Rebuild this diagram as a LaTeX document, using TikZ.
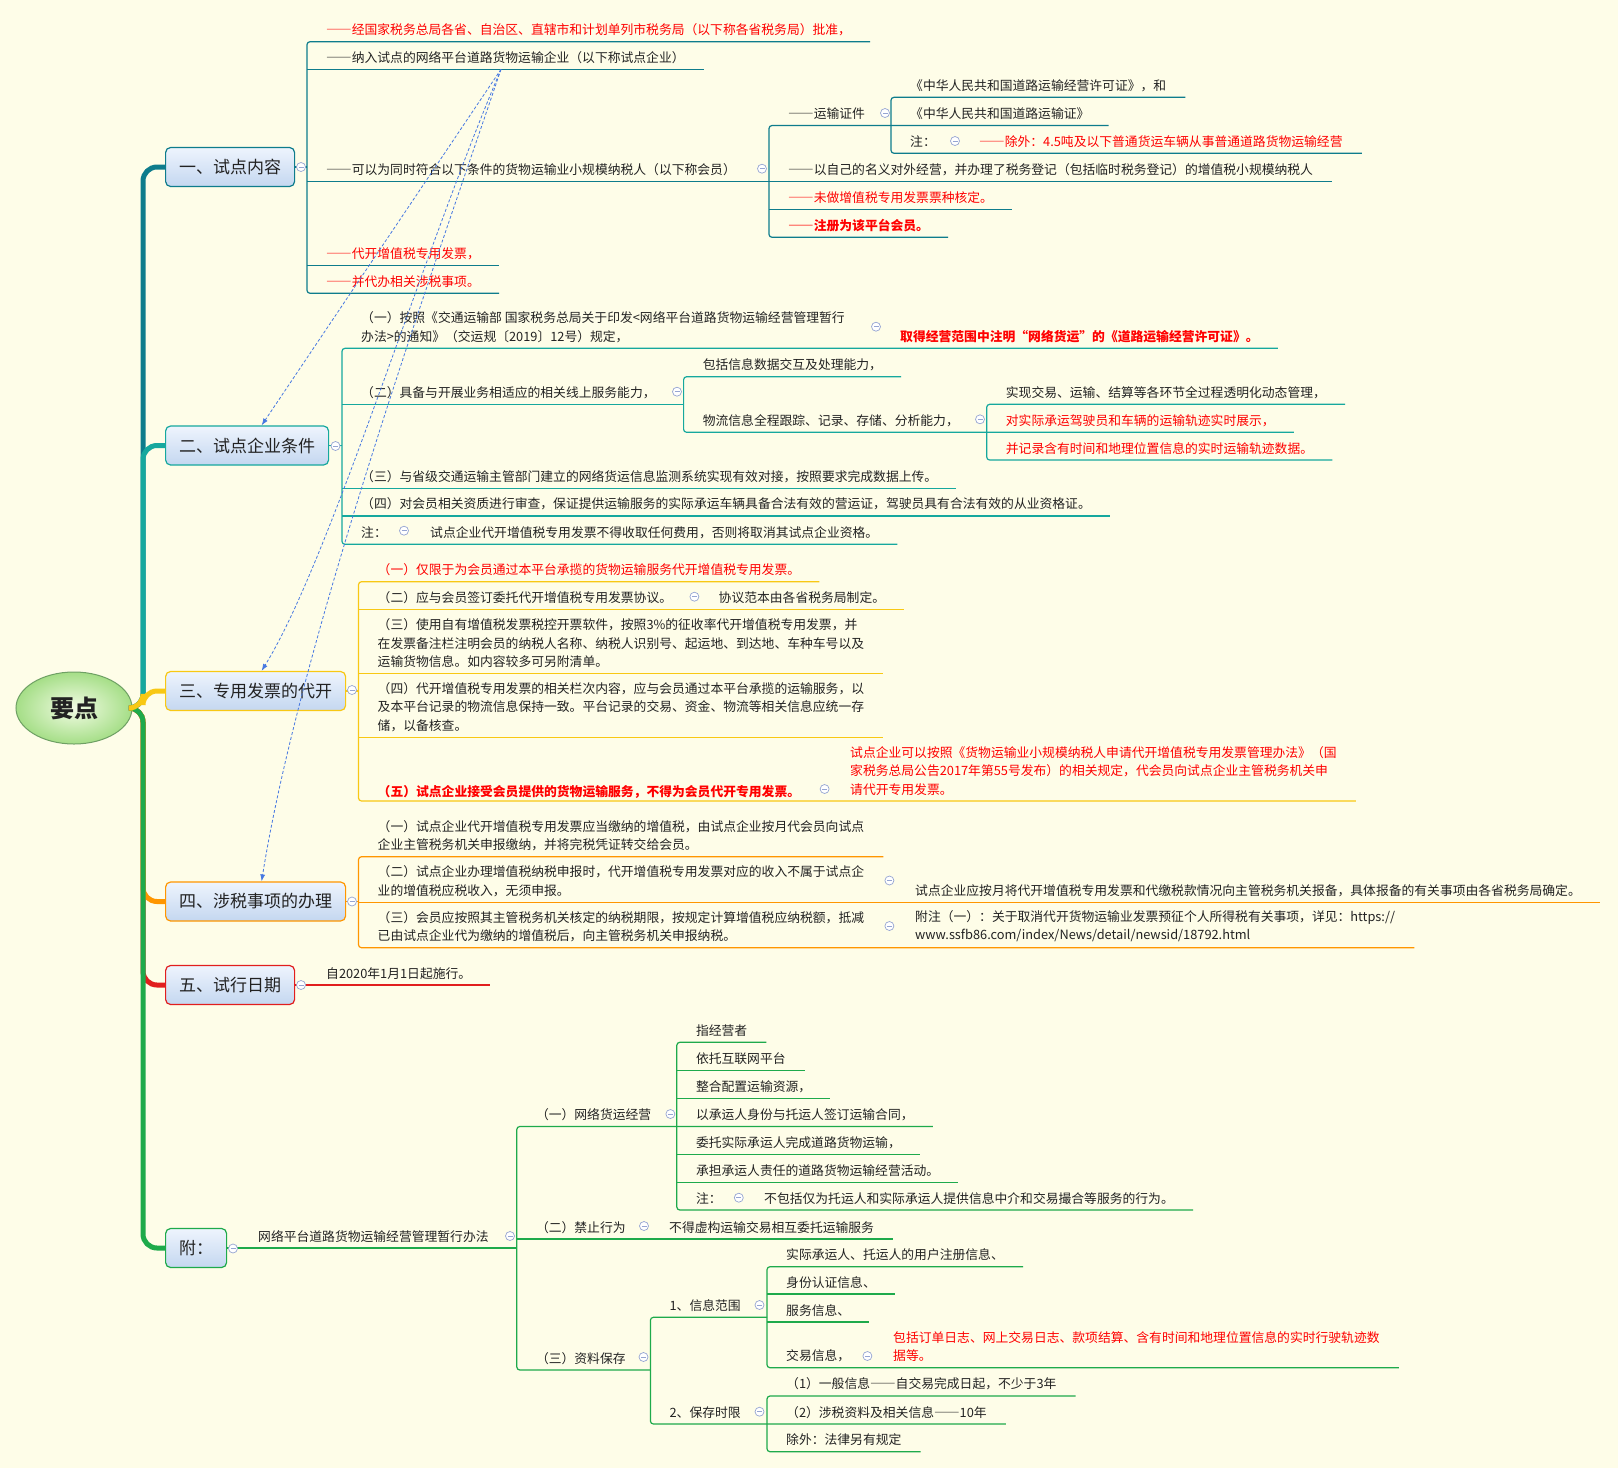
\documentclass[tikz,border=0pt]{standalone}
\usepackage{fontspec}
\setmainfont{Noto Sans CJK SC}
\newcommand\fwdash{{\addfontfeature{CharacterWidth=Full}——}}
\usepackage{tikz}
\usetikzlibrary{arrows.meta,shapes.geometric}
\usepackage{xcolor}
\definecolor{bgc}{RGB}{254,253,232}
\definecolor{brA}{RGB}{14,124,140}
\definecolor{brB}{RGB}{22,168,158}
\definecolor{brC}{RGB}{248,200,20}
\definecolor{brD}{RGB}{255,150,0}
\definecolor{brE}{RGB}{225,30,30}
\definecolor{brF}{RGB}{30,170,75}
\definecolor{txtc}{RGB}{34,34,34}
\definecolor{redt}{RGB}{255,0,0}
\definecolor{relc}{RGB}{70,120,225}
\definecolor{foldc}{RGB}{150,165,210}
\definecolor{tpTop}{RGB}{238,244,253}
\definecolor{tpBot}{RGB}{196,215,240}
\definecolor{rootIn}{RGB}{242,252,228}
\definecolor{rootOut}{RGB}{165,222,135}
\definecolor{rootBd}{RGB}{110,160,100}

\begin{document}
\begin{tikzpicture}[
  x=1pt, y=-1pt,
  root/.style={ellipse, draw=rootBd, line width=1, inner color=rootIn, outer color=rootOut,
               minimum width=116, minimum height=72, font=\fontsize{24}{28}\selectfont\bfseries, text=txtc},
  topic/.style={draw=#1, line width=1.2, rounded corners=5, top color=tpTop, bottom color=tpBot,
                anchor=west, minimum height=39, inner sep=0, font=\fontsize{17}{20}\selectfont, text=txtc},
  item/.style={anchor=south west, inner xsep=19, inner ysep=5.5, align=left,
               font=\fontsize{12.8}{18.3}\selectfont, text=txtc},
  warn/.style={item, text=redt},
  warnb/.style={item, text=redt, font=\fontsize{12.8}{18.3}\selectfont\bfseries},
  trunk/.style={draw=#1, line width=5, rounded corners=14},
  ln/.style={draw=#1, line width=1.2, rounded corners=3},
  fold/.style={circle, draw=foldc, fill=white, line width=0.7, minimum size=9, inner sep=0,
               path picture={\draw[foldc, line width=0.8] ([xshift=-2.5pt]path picture bounding box.center)
                 -- ([xshift=2.5pt]path picture bounding box.center);}},
  rel/.style={draw=relc, line width=0.8, dash pattern=on 3pt off 2pt, -{Latex[length=7pt,width=5pt]}}
]
\fill[bgc] (0,0) rectangle (1618,1468);
\useasboundingbox (0,0) rectangle (1618,1468);

% ---- root and main topics ----
\node[root] (ctr) at (74,708) {要点};
\coordinate (tk) at (143,708);
\node[topic=brA, minimum width=129] (t1) at (165,167)    {一、试点内容};
\node[topic=brB, minimum width=163] (t2) at (165,445.5)  {二、试点企业条件};
\node[topic=brC, minimum width=180] (t3) at (165,691)    {三、专用发票的代开};
\node[topic=brD, minimum width=180] (t4) at (165,901.5)  {四、涉税事项的办理};
\node[topic=brE, minimum width=129] (t5) at (165,985)    {五、试行日期};
\node[topic=brF, minimum width=61]  (t6) at (165,1248)   {附：};

\draw[trunk=brA] (ctr.east) -- (tk) |- (t1.west);
\draw[trunk=brB] (ctr.east) -- (tk) |- (t2.west);
\draw[trunk=brE] (ctr.east) -- (tk) |- (t5.west);
\draw[trunk=brD] (ctr.east) -- (tk) |- (t4.west);
\draw[trunk=brF] (ctr.east) -- (tk) |- (t6.west);
\draw[trunk=brC] (ctr.east) -- (tk) |- (t3.west);

% ---- 一、试点内容 ----
\node[warn] (a1) at (307,41.7)  {\fwdash 经国家税务总局各省、自治区、直辖市和计划单列市税务局（以下称各省税务局）批准，};
\node[item] (a2) at (307,69.3)  {\fwdash 纳入试点的网络平台道路货物运输企业（以下称试点企业）};
\node[item] (a3) at (307,181.5) {\fwdash 可以为同时符合以下条件的货物运输业小规模纳税人（以下称会员）};
\node[warn] (a4) at (307,265.7) {\fwdash 代开增值税专用发票，};
\node[warn] (a5) at (307,293.3) {\fwdash 并代办相关涉税事项。};
\node[item] (b1) at (769,125.5) {\fwdash 运输证件};
\node[item] (b2) at (769,181.5) {\fwdash 以自己的名义对外经营，并办理了税务登记（包括临时税务登记）的增值税小规模纳税人};
\node[warn] (b3) at (769,209.3) {\fwdash 未做增值税专用发票票种核定。};
\node[warnb] (b4) at (769,237.3) {\fwdash 注册为该平台会员。};
\node[item] (c1) at (891,97.3)  {《中华人民共和国道路运输经营许可证》，和};
\node[item] (c2) at (891,125.5) {《中华人民共和国道路运输证》};
\node[item] (c3) at (891,153.3) {注：};
\node[warn] (c4) at (960,153.3) {\fwdash 除外：4.5吨及以下普通货运车辆从事普通道路货物运输经营};

\draw[ln=brA] (t1.east) -- (t1.east -| a1.south west);
\draw[ln=brA] (a1.south east) -- (a1.south west) -- (a5.south west) -- (a5.south east);
\draw[ln=brA] (a2.south west) -- (a2.south east) (a4.south west) -- (a4.south east);
\draw[ln=brA] (a3.south west) -- (b2.south east);
\draw[ln=brA] (c2.south east) -- (b1.south west) -- (b4.south west) -- (b4.south east);
\draw[ln=brA] (b3.south west) -- (b3.south east);
\draw[ln=brA] (c1.south east) -- (c1.south west) -- (c3.south west) -- (c4.south east);

\node[fold] (fd1) at (301,167)   {};
\node[fold] (fd2) at (762,168.7) {};
\node[fold] (fd3) at (885,113)   {};
\node[fold] (fd4) at (955,141)   {};

% ---- 二、试点企业条件 ----
\node[item] (d1) at (342,348.3) {（一）按照《交通运输部 国家税务总局关于印发<网络平台道路货物运输经营管理暂行\\办法>的通知》（交运规〔2019〕12号）规定，};
\node[warnb] (d1c) at (881,348.3) {取得经营范围中注明“网络货运”的《道路运输经营许可证》。};
\node[item] (d2) at (342,404.3) {（二）具备与开展业务相适应的相关线上服务能力，};
\node[item] (e1) at (683.6,376.7) {包括信息数据交互及处理能力，};
\node[item] (e2) at (683.6,432.3) {物流信息全程跟踪、记录、存储、分析能力，};
\node[item] (f1) at (986.7,404.3) {实现交易、运输、结算等各环节全过程透明化动态管理，};
\node[warn] (f2) at (986.7,432.3) {对实际承运驾驶员和车辆的运输轨迹实时展示，};
\node[warn] (f3) at (986.7,460)   {并记录含有时间和地理位置信息的实时运输轨迹数据。};
\node[item] (d3) at (342,488.3) {（三）与省级交通运输主管部门建立的网络货运信息监测系统实现有效对接，按照要求完成数据上传。};
\node[item] (d4) at (342,516)   {（四）对会员相关资质进行审查，保证提供运输服务的实际承运车辆具备合法有效的营运证，驾驶员具有合法有效的从业资格证。};
\node[item] (d5) at (342,544.3) {注：};
\node[item] (d5c) at (411,544.3) {试点企业代开增值税专用发票不得收取任何费用，否则将取消其试点企业资格。};

\draw[ln=brB] (t2.east) -- (t2.east -| d1.south west);
\draw[ln=brB] (d1c.south east) -- (d1.south west) -- (d5.south west) -- (d5c.south east);
\draw[ln=brB] (d2.south west) -- (d2.south west -| e1.south west);
\draw[ln=brB] (d3.south west) -- (d3.south east) (d4.south west) -- (d4.south east);
\draw[ln=brB] (e1.south east) -- (e1.south west) -- (e2.south west) -- (f2.south east);
\draw[ln=brB] (f1.south east) -- (f1.south west) -- (f3.south west) -- (f3.south east);

\node[fold] (fd5) at (335.5,446)   {};
\node[fold] (fd6) at (876,326.7)   {};
\node[fold] (fd7) at (677,391.7)   {};
\node[fold] (fd8) at (980,419.3)   {};
\node[fold] (fd9) at (404,530.7)   {};

% ---- 三、专用发票的代开 ----
\node[warn] (g1) at (358.5,581.7) {（一）仅限于为会员通过本平台承揽的货物运输服务代开增值税专用发票。};
\node[item] (g2) at (358.5,609.3) {（二）应与会员签订委托代开增值税专用发票协议。};
\node[item] (g2c) at (699.5,609.3) {协议范本由各省税务局制定。};
\node[item] (g3) at (358.5,673.3) {（三）使用自有增值税发票税控开票软件，按照3\%的征收率代开增值税专用发票，并\\在发票备注栏注明会员的纳税人名称、纳税人识别号、起运地、到达地、车种车号以及\\运输货物信息。如内容较多可另附清单。};
\node[item] (g4) at (358.5,737.3) {（四）代开增值税专用发票的相关栏次内容，应与会员通过本平台承揽的运输服务，以\\及本平台记录的物流信息保持一致。平台记录的交易、资金、物流等相关信息应统一存\\储，以备核查。};
\node[warnb, inner ysep=2.5] (g5) at (358.5,801) {（五）试点企业接受会员提供的货物运输服务，不得为会员代开专用发票。};
\node[warn] (g5c) at (831,801) {试点企业可以按照《货物运输业小规模纳税人申请代开增值税专用发票管理办法》（国\\家税务总局公告2017年第55号发布）的相关规定，代会员向试点企业主管税务机关申\\请代开专用发票。};

\draw[ln=brC] (t3.east) -- (t3.east -| g1.south west);
\draw[ln=brC] (g1.south east) -- (g1.south west) -- (g5.south west) -- (g5c.south east);
\draw[ln=brC] (g2.south west) -- (g2c.south east) (g3.south west) -- (g3.south east) (g4.south west) -- (g4.south east);

\node[fold] (fd10) at (352,690)     {};
\node[fold] (fd11) at (694.4,596.7) {};
\node[fold] (fd12) at (824.6,789)   {};

% ---- 四、涉税事项的办理 ----
\node[item] (h1) at (358.5,856.7) {（一）试点企业代开增值税专用发票应当缴纳的增值税，由试点企业按月代会员向试点\\企业主管税务机关申报缴纳，并将完税凭证转交给会员。};
\node[item] (h2) at (358.5,902.3) {（二）试点企业办理增值税纳税申报时，代开增值税专用发票对应的收入不属于试点企\\业的增值税应税收入，无须申报。};
\node[item] (h2c) at (896,902.3) {试点企业应按月将代开增值税专用发票和代缴税款情况向主管税务机关报备，具体报备的有关事项由各省税务局确定。};
\node[item] (h3) at (358.5,947.7) {（三）会员应按照其主管税务机关核定的纳税期限，按规定计算增值税应纳税额，抵减\\已由试点企业代为缴纳的增值税后，向主管税务机关申报纳税。};
\node[item] (h3c) at (896,947.7) {附注（一）：关于取消代开货物运输业发票预征个人所得税有关事项，详见：https://\\www.ssfb86.com/index/News/detail/newsid/18792.html};

\draw[ln=brD] (t4.east) -- (t4.east -| h1.south west);
\draw[ln=brD] (h1.south east) -- (h1.south west) -- (h3.south west) -- (h3c.south east);
\draw[ln=brD] (h2.south west) -- (h2c.south east);

\node[fold] (fd13) at (352,901.5)   {};
\node[fold] (fd14) at (889.4,880.5) {};
\node[fold] (fd15) at (889.4,926)   {};

% ---- 五、试行日期 ----
\node[item] (i1) at (307,985) {自2020年1月1日起施行。};
\draw[ln=brE] (t5.east) -- (i1.south east);
\node[fold] (fd16) at (301,985) {};

% ---- 附：网络平台道路货物运输经营管理暂行办法 ----
\node[item] (j0) at (239,1248)    {网络平台道路货物运输经营管理暂行办法};
\node[item] (k1) at (516.8,1126.5) {（一）网络货运经营};
\node[item] (k2) at (516.8,1239)   {（二）禁止行为};
\node[item] (k2c) at (650,1239)    {不得虚构运输交易相互委托运输服务};
\node[item] (k3) at (516.8,1370)   {（三）资料保存};
\node[item] (l1) at (676.8,1042.3) {指经营者};
\node[item] (l2) at (676.8,1070.7) {依托互联网平台};
\node[item] (l3) at (676.8,1098.7) {整合配置运输资源，};
\node[item] (l4) at (676.8,1126.5) {以承运人身份与托运人签订运输合同，};
\node[item] (l5) at (676.8,1154.3) {委托实际承运人完成道路货物运输，};
\node[item] (l6) at (676.8,1182.3) {承担承运人责任的道路货物运输经营活动。};
\node[item] (l7) at (676.8,1210)   {注：};
\node[item] (l7c) at (745,1210)    {不包括仅为托运人和实际承运人提供信息中介和交易撮合等服务的行为。};
\node[item] (m1) at (650.4,1317.3) {1、信息范围};
\node[item] (m2) at (650.4,1424)   {2、保存时限};
\node[item] (n1) at (767,1266.7)   {实际承运人、托运人的用户注册信息、};
\node[item] (n2) at (767,1294)     {身份认证信息、};
\node[item] (n3) at (767,1322)     {服务信息、};
\node[item] (n4) at (767,1367.7)   {交易信息，};
\node[warn] (n4c) at (874,1367.7)  {包括订单日志、网上交易日志、款项结算、含有时间和地理位置信息的实时行驶轨迹数\\据等。};
\node[item] (o1) at (767,1396)     {（1）一般信息\fwdash 自交易完成日起，不少于3年};
\node[item] (o2) at (767,1424)     {（2）涉税资料及相关信息\fwdash 10年};
\node[item] (o3) at (767,1451.7)   {除外：法律另有规定};

\draw[ln=brF] (t6.east) -- (t6.east -| k1.south west);
\draw[ln=brF] (l4.south east) -- (k1.south west) -- (k3.south west) -- (k3.south west -| m1.south west);
\draw[ln=brF] (k2.south west) -- (k2c.south east);
\draw[ln=brF] (l1.south east) -- (l1.south west) -- (l7.south west) -- (l7c.south east);
\draw[ln=brF] (l2.south west) -- (l2.south east) (l3.south west) -- (l3.south east)
              (l5.south west) -- (l5.south east) (l6.south west) -- (l6.south east);
\draw[ln=brF] (m1.south west -| n1.south west) -- (m1.south west) -- (m2.south west) -- (o2.south east);
\draw[ln=brF] (n1.south east) -- (n1.south west) -- (n4.south west) -- (n4c.south east);
\draw[ln=brF] (n2.south west) -- (n2.south east) (n3.south west) -- (n3.south east);
\draw[ln=brF] (o1.south east) -- (o1.south west) -- (o3.south west) -- (o3.south east);

\node[fold] (fd17) at (233,1248.5)  {};
\node[fold] (fd18) at (510,1236)    {};
\node[fold] (fd19) at (670.4,1114)  {};
\node[fold] (fd20) at (644,1226)    {};
\node[fold] (fd21) at (643.5,1357)  {};
\node[fold] (fd22) at (738.8,1197.7) {};
\node[fold] (fd23) at (759.5,1305)  {};
\node[fold] (fd24) at (759.5,1411.7) {};
\node[fold] (fd25) at (867.4,1356)  {};

% ---- relationship lines from 试点企业 ----
\coordinate (relsrc) at (501,69.3);
\draw[rel] (relsrc) -- ([xshift=14.5pt]t2.north);
\draw[rel] (relsrc) .. controls (420,260) and (330,560) .. ([xshift=6pt]t3.north);
\draw[rel] (relsrc) .. controls (440,250) and (300,640) .. ([xshift=6pt]t4.north);

\end{tikzpicture}
\end{document}
